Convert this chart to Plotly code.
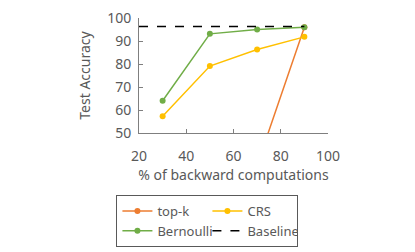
import plotly.graph_objects as go

x_vals = [30, 50, 70, 90]
topk = [10, 10, 36, 96]
crs = [57.3, 79.1, 86.3, 91.8]
bernoulli = [64.0, 93.1, 95.0, 96.0]
baseline_x = [20, 90]
baseline_y = [96.3, 96.3]

fig = go.Figure()
fig.add_trace(go.Scatter(x=x_vals, y=topk, name="top-k", mode="lines+markers",
                         line=dict(color="#ED7D31", width=1.5), marker=dict(size=6)))
fig.add_trace(go.Scatter(x=x_vals, y=crs, name="CRS", mode="lines+markers",
                         line=dict(color="#FFC000", width=1.5), marker=dict(size=6)))
fig.add_trace(go.Scatter(x=x_vals, y=bernoulli, name="Bernoulli", mode="lines+markers",
                         line=dict(color="#70AD47", width=1.5), marker=dict(size=6)))
fig.add_trace(go.Scatter(x=baseline_x, y=baseline_y, name="Baseline", mode="lines",
                         line=dict(color="black", width=1.5, dash="dash")))

axis_common = dict(showgrid=False, zeroline=False, showline=True, linecolor="#7f7f7f",
                   linewidth=1, ticks="inside", ticklen=4, tickcolor="#7f7f7f",
                   tickfont=dict(size=14, color="#595959"), automargin=False,
                   ticklabeloverflow="allow")
fig.update_xaxes(range=[20, 100], dtick=20, ticklabelstandoff=10,
                 title=dict(text="% of backward computations",
                            font=dict(size=14, color="#595959"), standoff=4), **axis_common)
fig.update_yaxes(range=[50, 100], dtick=10, ticklabelstandoff=4,
                 title=dict(text="Test Accuracy",
                            font=dict(size=14, color="#595959"), standoff=13), **axis_common)

fig.update_layout(
    width=415, height=252,
    margin=dict(l=131, r=95, t=10, b=127),
    paper_bgcolor="white", plot_bgcolor="white",
    font=dict(family="Noto Sans", color="#595959"),
    showlegend=True,
    legend=dict(orientation="h", x=0.362, xanchor="center", y=-0.539, yanchor="top",
                entrywidth=45, bordercolor="#595959", borderwidth=1,
                bgcolor="rgba(0,0,0,0)",
                font=dict(size=13, color="#595959"), tracegroupgap=0),
)
fig.write_html("out.html")
